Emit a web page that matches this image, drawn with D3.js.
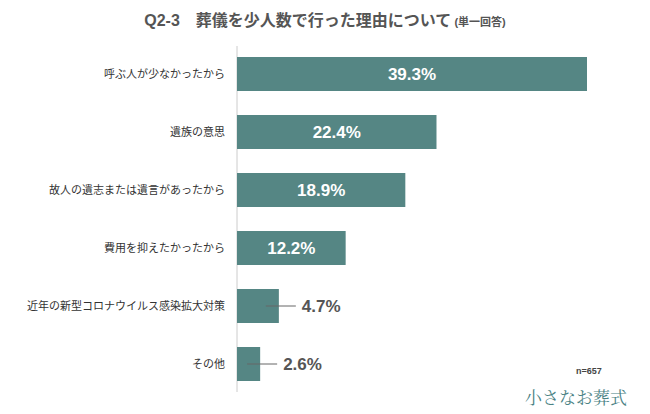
<!DOCTYPE html>
<html><head><meta charset="utf-8">
<script src="https://cdn.jsdelivr.net/npm/d3@7"></script>
<style>body{margin:0;background:#fff}</style></head>
<body><svg id="c" width="650" height="414"></svg>
<script>
const categories = ["呼ぶ人が少なかったから","遺族の意思","故人の遺志または遺言があったから","費用を抑えたかったから","近年の新型コロナウイルス感染拡大対策","その他"];
const values = [39.3,22.4,18.9,12.2,4.7,2.6];
const insideThreshold = 10;

const svg = d3.select("#c");
const font = "'Liberation Sans','Noto Sans CJK JP',sans-serif";
const x = d3.scaleLinear().domain([0,39.3]).range([237,587]);
const y = d3.scaleBand().domain(categories).range([45,393]).paddingInner(0.414).paddingOuter(0.207);

svg.append("text").attr("x",325).attr("y",26).attr("text-anchor","middle")
  .attr("font-family",font).attr("font-weight","bold").attr("font-size",16).attr("fill","#555")
  .text("Q2-3　葬儀を少人数で行った理由について")
  .append("tspan").attr("font-size",11).text(" (単一回答)");

svg.append("line").attr("x1",237).attr("x2",237).attr("y1",46).attr("y2",392).attr("stroke","#ccc");

const g = svg.selectAll("g.bar").data(categories).enter().append("g");
g.append("rect").attr("x",x(0)).attr("y",d=>y(d)).attr("height",y.bandwidth())
  .attr("width",(d,i)=>x(values[i])-x(0)).attr("fill","#558684");
g.append("text").attr("x",225).attr("y",d=>y(d)+y.bandwidth()/2).attr("dy","0.35em")
  .attr("text-anchor","end").attr("font-family",font).attr("font-size",11).attr("fill","#333").text(d=>d);
g.each(function(d,i){
  const s=d3.select(this), v=values[i], cy=y(d)+y.bandwidth()/2;
  if(v>=insideThreshold){
    s.append("text").attr("x",(x(0)+x(v))/2).attr("y",cy).attr("dy","0.35em").attr("text-anchor","middle")
     .attr("font-family",font).attr("font-weight","bold").attr("font-size",17).attr("fill","#fff").text(v.toFixed(1)+"%");
  } else {
    s.append("line").attr("x1",x(v)-13).attr("x2",x(v)+17).attr("y1",cy).attr("y2",cy).attr("stroke","#666");
    s.append("text").attr("x",x(v)+23).attr("y",cy).attr("dy","0.35em")
     .attr("font-family",font).attr("font-weight","bold").attr("font-size",17).attr("fill","#555").text(v.toFixed(1)+"%");
  }
});
svg.append("text").attr("x",576).attr("y",374).attr("font-family",font).attr("font-weight","bold")
  .attr("font-size",9).attr("fill","#444").text("n=657");
svg.append("text").attr("x",576).attr("y",404).attr("text-anchor","middle").attr("font-family","'Noto Serif CJK JP',serif")
  .attr("font-size",17).attr("fill","#4a8284").text("小さなお葬式");
</script></body></html>
